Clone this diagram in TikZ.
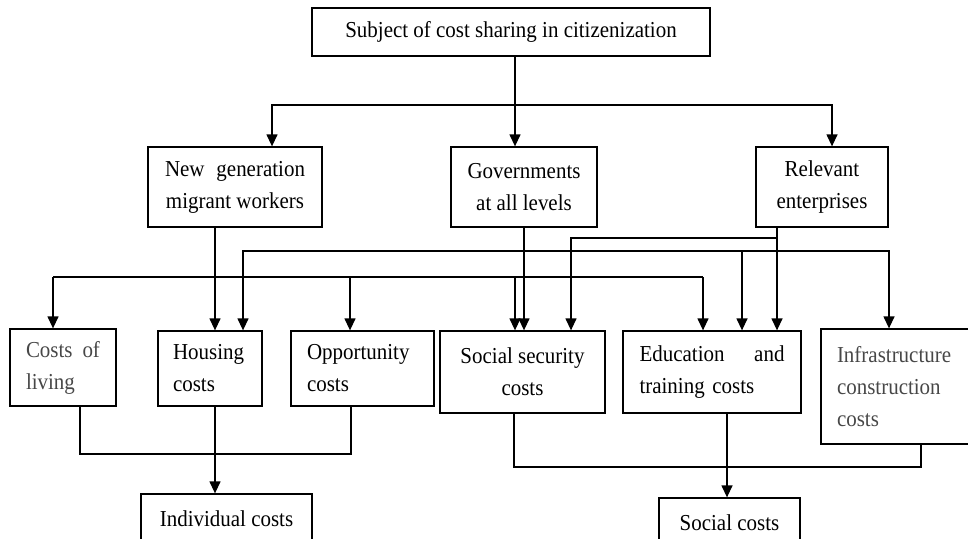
\documentclass[tikz,border=0pt]{standalone}
\usepackage{fontspec}
\setmainfont{Liberation Serif}[FakeStretch=0.92]
\usepackage{tikz}
\usetikzlibrary{arrows.meta}

\begin{document}
\begin{tikzpicture}[x=1pt, y=-1pt, line width=1.3pt, >={Triangle[width=11pt,length=12pt]},
  box/.style={draw, inner sep=0pt, font=\fontsize{22.8}{32}\selectfont},
  faded/.style={text=black!72}]
\useasboundingbox (0,0) rectangle (968,538);
\clip (0,0) rectangle (968,538);
% subjects
\node[box, minimum width=398pt, minimum height=48pt] (top) at (511,32) {Subject of cost sharing in citizenization};
\node[box, minimum width=174pt, minimum height=80pt, align=center] (workers) at (235,187) {\makebox[140pt][l]{New\hfill generation}\\migrant workers};
\node[box, minimum width=146pt, minimum height=80pt, align=center] (gov) at (524,187) {Governments\\at all levels};
\node[box, minimum width=132pt, minimum height=80pt, align=center] (firms) at (822,187) {Relevant\\enterprises};
% cost items
\node[box, faded, minimum width=106pt, minimum height=77pt, text width=74pt, align=left] (living) at (63,367.5) {\makebox[74pt][l]{Costs\hfill of}\\living};
\node[box, minimum width=104pt, minimum height=75pt, text width=74pt, align=left] (housing) at (210,368.5) {Housing\\costs};
\node[box, minimum width=143pt, minimum height=75pt, text width=111pt, align=left] (opp) at (362.5,368.5) {Opportunity\\costs};
\node[box, minimum width=165pt, minimum height=82pt, align=center] (ss) at (522.5,372) {Social security\\costs};
\node[box, minimum width=178pt, minimum height=82pt, text width=145pt, align=left] (edu) at (712,372) {\makebox[145pt][l]{Education\hfill and}\\training costs};
\node[box, faded, minimum width=180pt, minimum height=115pt, text width=148pt, align=left] (infra) at (911,386.5) {Infrastructure\\construction\\costs};
% cost types
\node[box, minimum width=171pt, minimum height=50pt] (indiv) at (226.5,519) {Individual costs};
\node[box, minimum width=141pt, minimum height=50pt] (social) at (729.5,523) {Social costs};

% subjects -> subjects
\coordinate (split) at (515,105);
\draw[->] (top.south -| split) -- (gov.north -| split);
\draw[->] (split) -| (272,0 |- workers.north);
\draw[->] (split) -| (832,0 |- firms.north);
% subjects -> cost items
\draw[->] (215,0 |- workers.south) -- (215,0 |- housing.north);
\draw[->] (gov.south) -- (gov.south |- ss.north);
\draw[->] (777,0 |- firms.south) -- (777,0 |- edu.north);
\coordinate (busA) at (777,238);
\coordinate (busB) at (243,251);
\coordinate (busC) at (53,277);
\draw[->] (busA) -| (571,0 |- ss.north);
\draw[->] (busB -| 889,0) -| (busB |- housing.north);
\draw[->] (busB) -| (889,0 |- infra.north);
\draw[->] (busB -| 742,0) -- (742,0 |- edu.north);
\draw (busC) -- (busC -| 703,0);
\foreach \x/\dst in {53/living,350/opp,515/ss,703/edu}
  \draw[->] (busC -| \x,0) -- (\x,0 |- \dst.north);
% cost items -> cost types
\draw (80,0 |- living.south) |- (351,454) -- (351,0 |- opp.south);
\draw[->] (215,0 |- housing.south) -- (215,0 |- indiv.north);
\draw (514,0 |- ss.south) |- (921,467) -- (921,0 |- infra.south);
\draw[->] (727,0 |- edu.south) -- (727,0 |- social.north);
\end{tikzpicture}
\end{document}
